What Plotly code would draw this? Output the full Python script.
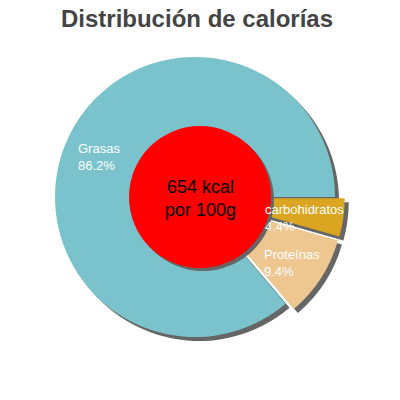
import plotly.graph_objects as go

labels = ["carbohidratos", "Proteínas", "Grasas"]
percents = [4.4, 9.4, 86.2]
colors = ["#daa520", "#eec690", "#7bc3cc"]
pulls = [0.07, 0.07, 0]
energy_text = "654 kcal<br>por 100g"
title_text = "Distribución de calorías"

W = 400
H = 400

def px_x(v):
    return v / W

def px_y(v):
    return 1 - v / H

def pieDomain(cx, cy, r, maxpull):
    half = r * (1 + maxpull)
    return dict(x=[px_x(cx - half), px_x(cx + half)],
                y=[px_y(cy + half), px_y(cy - half)])

def main():
    cx, cy, r = 195, 197, 140
    fig = go.Figure()

    # shadow pie, grey, shifted a few pixels down-right
    fig.add_trace(go.Pie(
        labels=labels, values=percents, sort=False, direction="clockwise",
        rotation=90, pull=pulls, textinfo="none", hoverinfo="skip",
        marker=dict(colors=["#666666"] * len(labels)),
        domain=pieDomain(cx + 4, cy + 4, r, max(pulls)),
        showlegend=False,
    ))
    fig.add_trace(go.Pie(
        labels=labels, values=percents, sort=False, direction="clockwise",
        rotation=90, pull=pulls, textinfo="none",
        marker=dict(colors=colors),
        domain=pieDomain(cx, cy, r, max(pulls)),
        showlegend=False,
    ))

    # red centre disc with its own shadow
    fig.add_shape(type="circle", xref="paper", yref="paper",
                  x0=px_x(132), x1=px_x(274), y0=px_y(271), y1=px_y(129),
                  fillcolor="#666666", line=dict(width=0))
    fig.add_shape(type="circle", xref="paper", yref="paper",
                  x0=px_x(129), x1=px_x(271), y0=px_y(268), y1=px_y(126),
                  fillcolor="#ff0000", line=dict(width=0))

    fig.add_annotation(x=px_x(200), y=px_y(198), xref="paper", yref="paper",
                       text=energy_text, showarrow=False,
                       font=dict(family="Liberation Sans, Arial", size=18, color="black"))

    label_pos = [(263, 200), (262, 245), (76, 139)]
    for lab, pct, (lx, ly) in zip(labels, percents, label_pos):
        fig.add_annotation(x=px_x(lx), y=px_y(ly), xref="paper", yref="paper",
                           xanchor="left", yanchor="top", align="left",
                           text=f"{lab}<br>{pct}%", showarrow=False,
                           font=dict(family="Liberation Sans, Arial", size=13, color="white"))

    fig.update_layout(
        width=W, height=H,
        margin=dict(l=0, r=0, t=0, b=0),
        paper_bgcolor="white",
        title=dict(text=f"<b>{title_text}</b>", x=px_x(197), xanchor="center",
                   y=px_y(19), yanchor="middle",
                   font=dict(family="Liberation Sans, Arial", size=24, color="#444444")),
    )
    # drop the default 8px page margin so the figure sits at the window corner
    fig.write_html("out.html", config={"displayModeBar": False},
                   post_script="document.body.style.margin='0';")

if __name__ == "__main__":
    main()
